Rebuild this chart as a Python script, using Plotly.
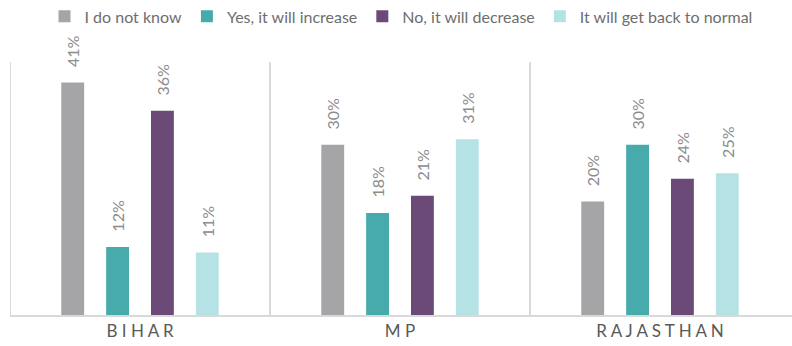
import plotly.graph_objects as go

states = ["BIHAR", "MP", "RAJASTHAN"]
series_names = ["I do not know", "Yes, it will increase", "No, it will decrease", "It will get back to normal"]
dont_know = [41, 30, 20]
increase = [12, 18, 30]
decrease = [36, 21, 24]
back_normal = [11, 31, 25]
colors = ["#A5A5A8", "#48ABAB", "#6C4A77", "#B5E2E5"]

values = [dont_know, increase, decrease, back_normal]

def spaced(s):
    return " ".join(list(s))

fig = go.Figure()
for name, vals, col in zip(series_names, values, colors):
    fig.add_trace(go.Bar(
        x=states, y=vals, name=name,
        marker=dict(color=col, line=dict(width=0)),
        text=vals,
        texttemplate="\u00a0\u00a0\u00a0%{y}%",
        textposition="outside",
        textangle=-90,
        constraintext="none",
        cliponaxis=False,
        textfont=dict(color="#8C8C8C", size=16, family="Lato"),
    ))

# category separators
for i in range(len(states)):
    fig.add_shape(type="line", xref="x", yref="paper",
                  x0=i - 0.5, x1=i - 0.5, y0=0, y1=1,
                  line=dict(color="#D9D9D9", width=2))

fig.update_layout(
    width=792, height=346,
    margin=dict(l=10, r=0, t=62, b=31, autoexpand=False),
    paper_bgcolor="white", plot_bgcolor="white",
    barmode="group", bargap=0.31, bargroupgap=0.49,
    showlegend=True,
    legend=dict(orientation="h", x=0.5, xanchor="center", y=1.18, yanchor="middle",
                font=dict(size=16, color="#6E6E6E", family="Lato"),
                itemclick=False, traceorder="normal", itemwidth=30),
    font=dict(family="Lato"),
)
fig.update_xaxes(
    range=[-0.5, 2.5 + 2 / 260],
    tickmode="array", tickvals=list(range(len(states))),
    ticktext=[spaced(s) for s in states],
    tickfont=dict(size=17, color="#595959", family="Lato"),
    showline=True, linecolor="#D9D9D9", linewidth=2,
    ticks="", showgrid=False, automargin=False,
)
fig.update_yaxes(range=[0, 44.6], visible=False, showgrid=False)

fig.write_html("out.html", config={"displayModeBar": False},
               post_script="document.body.style.margin='0';")
